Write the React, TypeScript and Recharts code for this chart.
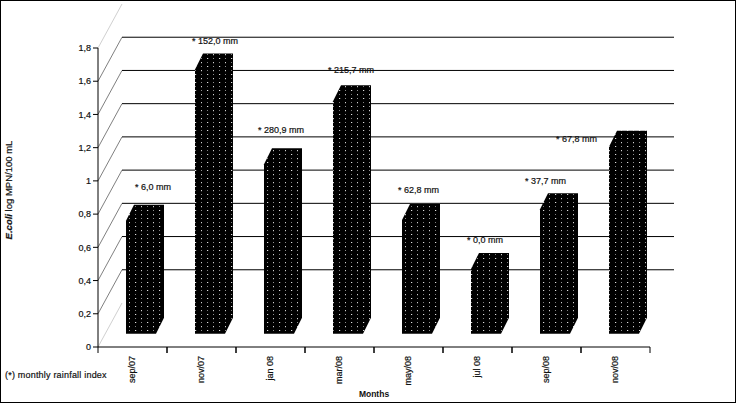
import { BarChart, Bar, XAxis, YAxis, CartesianGrid, LabelList, Label } from 'recharts';

const MONTHS = ['sep/07', 'nov/07', 'jan 08', 'mar/08', 'may/08', 'jul 08', 'sep/08', 'nov/08'];
const ECOLI = [0.76, 1.67, 1.10, 1.48, 0.765, 0.47, 0.83, 1.205];
const RAINFALL = ['* 6,0 mm', '* 152,0 mm', '* 280,9 mm', '* 215,7 mm', '* 62,8 mm', '* 0,0 mm', '* 37,7 mm', '* 67,8 mm'];
const BASE = 0.08;
const Y_TICKS = [0, 0.2, 0.4, 0.6, 0.8, 1, 1.2, 1.4, 1.6, 1.8];

const data = MONTHS.map((month, i) => ({ month, range: [BASE, ECOLI[i]], rain: RAINFALL[i] }));

// rainfall labels sit at hand-placed spots in the original
const LABEL_NUDGE = [
  [17, -31], [5, -26], [2, -31], [3, -28], [4, -27], [4, -26], [-7, -25], [-45, -5],
];

const FONT = '"Liberation Sans", Arial, sans-serif';
const TEXT_STROKE = { stroke: '#111', strokeWidth: 0.2 };
const DEPTH_X = 8;
const DEPTH_Y = 16;
const WALL_X = 24;
const WALL_Y = 44;

function Block({ x, y, width, height }: any) {
  const l = x + DEPTH_X;
  const r = l + width;
  const b = y + height;
  const pts = [
    [l, y], [l + DEPTH_X, y - DEPTH_Y], [r + DEPTH_X, y - DEPTH_Y],
    [r + DEPTH_X, b - DEPTH_Y], [r, b], [l, b],
  ].map(p => p.join(',')).join(' ');
  return <polygon points={pts} fill="url(#dots)" />;
}

function WallLine({ index, x1, x2, y1, y2 }: any) {
  const edge = index === 0 || index === Y_TICKS.length - 1;
  return (
    <g>
      <line x1={x1} y1={y1} x2={x1 + WALL_X} y2={y1 - WALL_Y} stroke={edge ? '#d0d0d0' : '#808080'} strokeWidth={1} />
      {!edge && <line x1={x1 + WALL_X} y1={y1 - WALL_Y} x2={x2 + WALL_X} y2={y2 - WALL_Y} stroke="#000" strokeWidth={1} />}
    </g>
  );
}

function MonthTick({ x, y, payload }: any) {
  const half = 34.5;
  return (
    <g>
      <line x1={x - half} y1={y - 8} x2={x - half} y2={y - 2} stroke="#000" />
      <line x1={x + half} y1={y - 8} x2={x + half} y2={y - 2} stroke="#000" />
      <text x={x + 2} y={y + 1} transform={`rotate(-90 ${x + 2} ${y + 1})`} textAnchor="end"
        fontFamily={FONT} fontSize={9} fill="#111" {...TEXT_STROKE}>
        {payload.value}
      </text>
    </g>
  );
}

function RainLabel({ x, y, value, index }: any) {
  const [dx, dy] = LABEL_NUDGE[index];
  return (
    <text x={x + dx} y={y + dy} fontFamily={FONT} fontSize={9} fill="#111" {...TEXT_STROKE}>
      {value}
    </text>
  );
}

function YTitle() {
  return (
    <text x={10.5} y={189} transform="rotate(-90 10.5 189)" textAnchor="middle"
      fontFamily={FONT} fontSize={9.5} fill="#111" {...TEXT_STROKE}>
      <tspan fontStyle="italic" fontWeight="bold">E.coli</tspan> log MPN/100 mL
    </text>
  );
}

export default function App() {
  return (
    <div style={{ position: 'absolute', left: 0, top: 0, width: 736, height: 403, boxSizing: 'border-box', border: '1px solid #000', background: '#fff', overflow: 'hidden' }}>
      <BarChart width={734} height={401} data={data} margin={{ top: 47, right: 85, left: 0, bottom: 0 }} barSize={30}>
        <defs>
          <pattern id="dots" width="12" height="8" patternUnits="userSpaceOnUse">
            <rect width="12" height="8" fill="#000" />
            <rect x="2" y="1" width="1" height="1" fill="#e0e0e0" />
            <rect x="8" y="1" width="1" height="1" fill="#909090" />
            <rect x="2" y="5" width="1" height="1" fill="#808080" />
            <rect x="8" y="5" width="1" height="1" fill="#d0d0d0" />
            <rect x="3" y="1" width="1" height="1" fill="#303030" />
            <rect x="8" y="6" width="1" height="1" fill="#303030" />
          </pattern>
        </defs>
        <CartesianGrid vertical={false} horizontal={(p: any) => <WallLine key={p.index} {...p} />} />
        <XAxis dataKey="month" height={55} interval={0} tickLine={false} axisLine={{ stroke: '#000' }}
          tick={(p: any) => <MonthTick {...p} />}>
          <Label value="Months" position="insideBottom" offset={5} fontFamily={FONT} fontSize={8.5} fontWeight="bold" fill="#111" />
        </XAxis>
        <YAxis width={97} domain={[0, 1.8]} ticks={Y_TICKS} interval={0} tickSize={5} axisLine={{ stroke: '#000' }} tickLine={{ stroke: '#000' }}
          tickFormatter={(v: number) => String(v).replace('.', ',')}
          tick={{ fontFamily: FONT, fontSize: 9, fill: '#111', ...TEXT_STROKE }}>
          <Label content={() => <YTitle />} />
        </YAxis>
        <Bar dataKey="range" isAnimationActive={false} shape={(p: any) => <Block {...p} />}>
          <LabelList dataKey="rain" content={(p: any) => <RainLabel {...p} />} />
        </Bar>
      </BarChart>
      <div style={{ position: 'absolute', left: 4, top: 369, fontFamily: FONT, fontSize: 9, letterSpacing: 0.2, color: '#111', WebkitTextStroke: '0.2px #111', whiteSpace: 'nowrap' }}>
        (*) monthly rainfall index
      </div>
    </div>
  );
}
